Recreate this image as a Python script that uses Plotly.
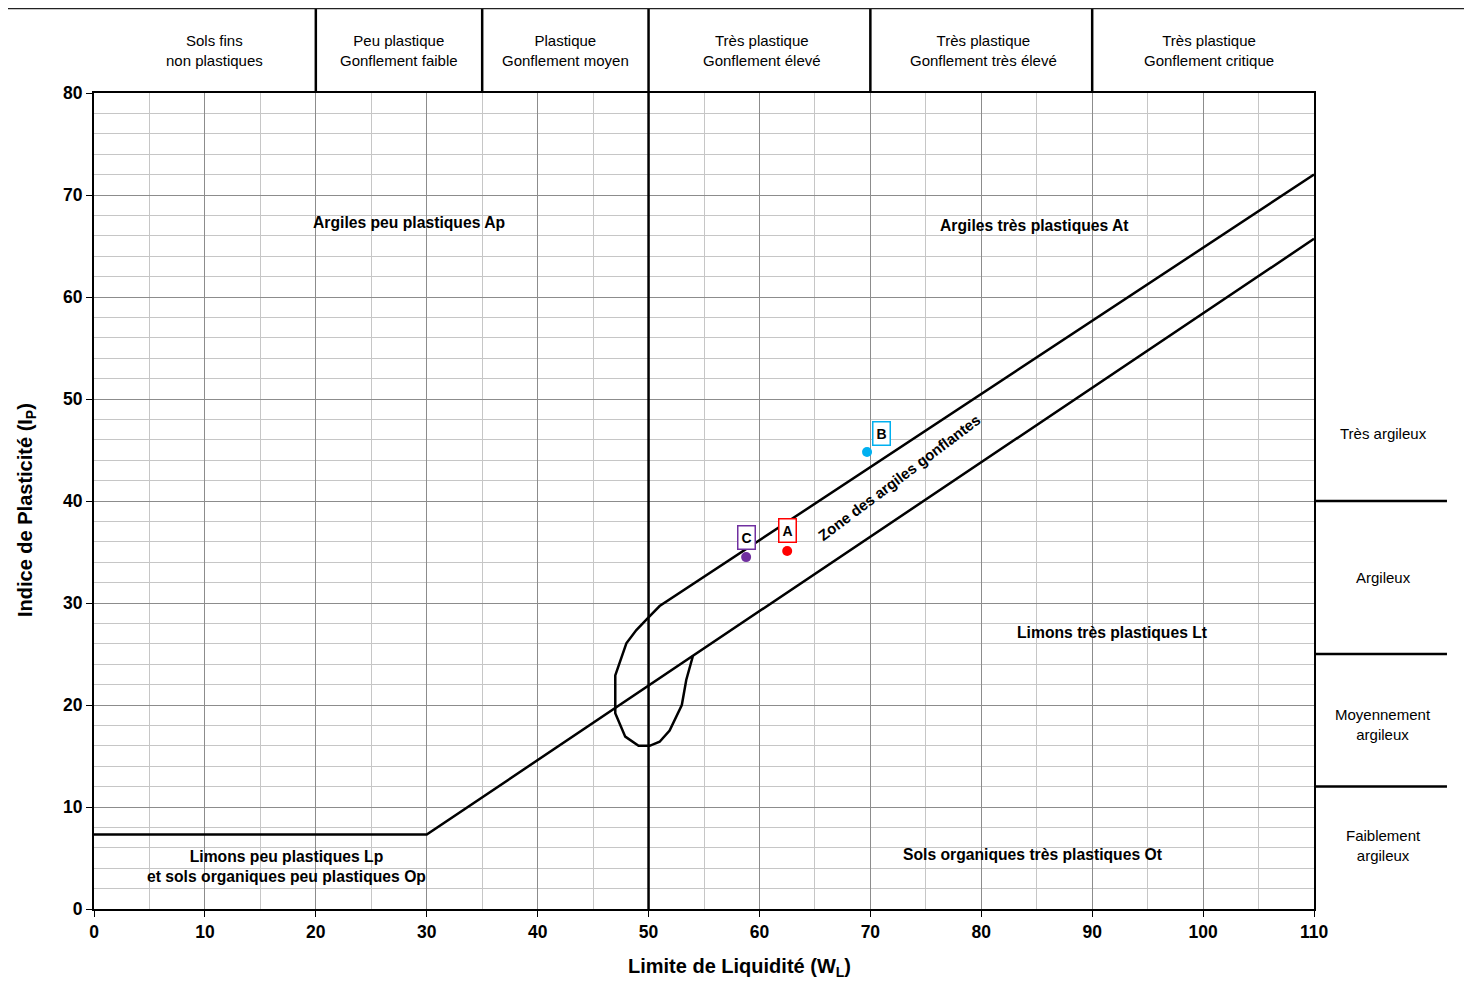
import plotly.graph_objects as go

# ---- data ----
aline_wl = [0, 30, 110]
aline_ip = [7.3, 7.3, 65.7]

zone_wl = [110, 51.0, 50.0, 48.9, 48.0, 47.0, 47.0, 47.9, 49.1, 50.1, 51.0, 51.9, 53.0, 53.4, 54.0]
zone_ip = [72.0, 29.7, 28.6, 27.35, 26.05, 22.9, 19.2, 16.9, 16.0, 16.0, 16.4, 17.5, 20.0, 22.45, 24.8]

sample_names = ["A", "B", "C"]
sample_wl = [62.5, 69.7, 58.8]
sample_ip = [35.1, 44.8, 34.5]
sample_colors = ["#ff0000", "#00b0f0", "#7030a0"]
label_shift = [(0, 20), (14, 19), (0, 20)]

header_bounds = [20, 35, 50, 70, 90]
header_centers = [10.9, 27.5, 42.5, 60.2, 80.2, 100.5]
header_labels = ["Sols fins<br>non plastiques", "Peu plastique<br>Gonflement faible",
                 "Plastique<br>Gonflement moyen", "Très plastique<br>Gonflement élevé",
                 "Très plastique<br>Gonflement très élevé", "Très plastique<br>Gonflement critique"]

side_bounds = [40, 25, 12]
side_centers = [46.6, 32.5, 18.1, 6.2]
side_labels = ["Très argileux", "Argileux", "Moyennement<br>argileux", "Faiblement<br>argileux"]

region_labels = ["Argiles peu plastiques Ap", "Argiles très plastiques At",
                 "Limons très plastiques Lt", "Sols organiques très plastiques Ot",
                 "Limons peu plastiques Lp<br>et sols organiques peu plastiques Op"]
region_wl = [28.4, 84.8, 91.8, 84.7, 17.4]
region_ip = [67.35, 67.05, 27.15, 5.3, 4.2]

FONT = "Liberation Sans, Arial, sans-serif"

fig = go.Figure()
fig.add_trace(go.Scatter(x=aline_wl, y=aline_ip, mode="lines",
                         line=dict(color="black", width=2.5), hoverinfo="skip"))
fig.add_trace(go.Scatter(x=zone_wl, y=zone_ip, mode="lines",
                         line=dict(color="black", width=2.5), hoverinfo="skip"))
fig.add_trace(go.Scatter(x=sample_wl, y=sample_ip, mode="markers",
                         marker=dict(color=sample_colors, size=10), hoverinfo="skip"))

shapes = []
top = 1.104
shapes.append(dict(type="line", xref="x", yref="paper", x0=50, x1=50, y0=0, y1=top,
                   line=dict(color="black", width=2.5)))
for b in header_bounds:
    if b == 50:
        continue
    shapes.append(dict(type="line", xref="x", yref="paper", x0=b, x1=b, y0=1, y1=top,
                       line=dict(color="black", width=2.5)))
shapes.append(dict(type="line", xref="paper", yref="paper", x0=-0.0713, x1=1.135, y0=top, y1=top,
                   line=dict(color="#222222", width=2)))
shapes.append(dict(type="line", xref="paper", yref="paper", x0=-0.0713, x1=-0.0713, y0=top, y1=-0.1,
                   line=dict(color="#777777", width=1)))
for b in side_bounds:
    shapes.append(dict(type="line", xref="paper", yref="y", x0=1, x1=1.109, y0=b, y1=b,
                       line=dict(color="black", width=2.5)))

annotations = []
for x, t in zip(header_centers, header_labels):
    annotations.append(dict(x=x, y=1.0515, xref="x", yref="paper", text=t, showarrow=False,
                            xanchor="center", yanchor="middle",
                            font=dict(family=FONT, size=15, color="black")))
for y, t in zip(side_centers, side_labels):
    annotations.append(dict(x=1.0566, y=y, xref="paper", yref="y", text=t, showarrow=False,
                            xanchor="center", yanchor="middle",
                            font=dict(family=FONT, size=15, color="black")))
for x, y, t in zip(region_wl, region_ip, region_labels):
    annotations.append(dict(x=x, y=y, xref="x", yref="y", text=t, showarrow=False,
                            xanchor="center", yanchor="middle",
                            font=dict(family=FONT, size=15.7, color="black", weight="bold")))
for n, x, y, c, s in zip(sample_names, sample_wl, sample_ip, sample_colors, label_shift):
    annotations.append(dict(x=x, y=y, xref="x", yref="y", text=n, showarrow=False,
                            xanchor="center", yanchor="middle",
                            xshift=s[0], yshift=s[1], bgcolor="white", bordercolor=c,
                            borderwidth=1.5, borderpad=3,
                            font=dict(family=FONT, size=14, color="black", weight="bold")))
annotations.append(dict(x=72.6, y=42.3, xref="x", yref="y", text="Zone des argiles gonflantes",
                        showarrow=False, textangle=-37, xanchor="center", yanchor="middle",
                        font=dict(family=FONT, size=15, color="black", weight="bold")))
annotations.append(dict(x=0.5295, y=-0.0723, xref="paper", yref="paper",
                        text="Limite de Liquidité (W<sub>L</sub>)", showarrow=False,
                        xanchor="center", yanchor="middle",
                        font=dict(family=FONT, size=20, color="black", weight="bold")))
annotations.append(dict(x=-0.0549, y=0.489, xref="paper", yref="paper",
                        text="Indice de Plasticité (I<sub>P</sub>)", showarrow=False, textangle=-90,
                        xanchor="center", yanchor="middle",
                        font=dict(family=FONT, size=20, color="black", weight="bold")))

axis_common = dict(showline=True, linecolor="black", linewidth=2, mirror=True,
                   ticks="outside", ticklen=6, tickcolor="black", tickwidth=1,
                   showgrid=True, gridcolor="#8c8c8c", gridwidth=1, zeroline=False,
                   tickfont=dict(family=FONT, size=17.5, color="black", weight="bold"))

fig.update_layout(
    width=1472, height=981,
    margin=dict(l=86, r=166, t=85, b=80),
    paper_bgcolor="white", plot_bgcolor="white",
    showlegend=False,
    xaxis=dict(range=[0, 110], dtick=10, tick0=0,
               minor=dict(dtick=5, showgrid=True, gridcolor="#c6c6c6", gridwidth=1), **axis_common),
    yaxis=dict(range=[0, 80], dtick=10, tick0=0,
               minor=dict(dtick=2, showgrid=True, gridcolor="#c6c6c6", gridwidth=1), **axis_common),
    shapes=shapes,
    annotations=annotations,
)

fig.write_html("out.html")
